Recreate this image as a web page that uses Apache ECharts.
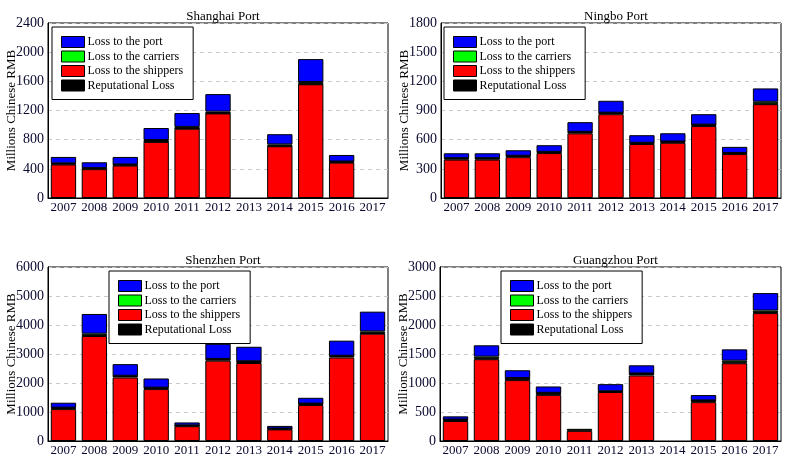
<!DOCTYPE html>
<html>
<head>
<meta charset="utf-8">
<script src="https://cdn.jsdelivr.net/npm/echarts@6/dist/echarts.min.js"></script>
<style>html,body{margin:0;padding:0;background:#fff}#c{width:786px;height:463px}</style>
</head>
<body>
<div id="c"></div>
<script>
const years = ['2007','2008','2009','2010','2011','2012','2013','2014','2015','2016','2017'];
const seriesNames = ['Loss to the shippers','Reputational Loss','Loss to the carriers','Loss to the port'];
const legendOrder = ['Loss to the port','Loss to the carriers','Loss to the shippers','Reputational Loss'];
const portTitles = ['Shanghai Port','Ningbo Port','Shenzhen Port','Guangzhou Port'];
const yMax = [2400, 1800, 6000, 3000];
const yInterval = [400, 300, 1000, 500];

// Shanghai
const shanghaiShippers   = [460, 395, 445, 770, 950, 1160, 0, 710, 1560, 485, 0];
const shanghaiReputation = [10, 10, 10, 5, 5, 5, 0, 5, 5, 10, 0];
const shanghaiCarriers   = [5, 5, 5, 20, 20, 20, 0, 20, 25, 5, 0];
const shanghaiPort       = [88, 80, 103, 165, 190, 240, 0, 140, 315, 90, 0];
// Ningbo
const ningboShippers   = [395, 395, 420, 462, 665, 862, 555, 568, 740, 452, 965];
const ningboReputation = [12, 12, 12, 10, 12, 12, 10, 10, 12, 8, 5];
const ningboCarriers   = [3, 3, 3, 3, 3, 3, 3, 3, 3, 3, 20];
const ningboPort       = [50, 50, 56, 68, 100, 123, 78, 85, 107, 63, 137];
// Shenzhen
const shenzhenShippers   = [1100, 3620, 2190, 1790, 510, 2770, 2690, 400, 1240, 2880, 3700];
const shenzhenReputation = [40, 20, 50, 40, 20, 50, 50, 20, 40, 50, 20];
const shenzhenCarriers   = [10, 60, 10, 10, 10, 10, 10, 10, 10, 10, 60];
const shenzhenPort       = [170, 680, 400, 316, 100, 520, 500, 90, 200, 520, 680];
// Guangzhou
const guangzhouShippers   = [345, 1410, 1050, 795, 175, 845, 1130, 0, 670, 1340, 2205];
const guangzhouReputation = [20, 15, 30, 30, 35, 8, 30, 0, 25, 15, 15];
const guangzhouCarriers   = [5, 30, 5, 5, 0, 5, 5, 0, 5, 30, 30];
const guangzhouPort       = [55, 195, 135, 110, 0, 122, 140, 0, 92, 195, 300];

const portData = [
  [shanghaiShippers, shanghaiReputation, shanghaiCarriers, shanghaiPort],
  [ningboShippers, ningboReputation, ningboCarriers, ningboPort],
  [shenzhenShippers, shenzhenReputation, shenzhenCarriers, shenzhenPort],
  [guangzhouShippers, guangzhouReputation, guangzhouCarriers, guangzhouPort]
];
const colors = ['#ff0000', '#000000', '#00ff00', '#0000ff'];

const grids = [
  {left: 48, top: 23, width: 340, height: 175},
  {left: 441, top: 23, width: 340, height: 175},
  {left: 48, top: 267, width: 340, height: 174},
  {left: 440, top: 267, width: 341, height: 174}
];
const legendPos = [
  {left: 52, top: 27},
  {left: 444, top: 27},
  {left: 109, top: 271},
  {left: 501, top: 271}
];
const FONT = 'Liberation Serif';

const option = {
  backgroundColor: '#fff',
  animation: false,
  textStyle: {fontFamily: FONT},
  title: portTitles.map((t, i) => ({
    text: t,
    left: grids[i].left + grids[i].width / 2,
    textAlign: 'center',
    top: grids[i].top - 18,
    textStyle: {fontFamily: FONT, fontSize: 13, fontWeight: 'normal', color: '#000'}
  })),
  legend: legendPos.map((p, i) => ({
    data: legendOrder,
    orient: 'vertical',
    left: p.left,
    top: p.top,
    icon: 'rect',
    itemWidth: 23,
    itemHeight: 11,
    itemGap: 2.5,
    padding: [9, 10, 8, 9],
    borderColor: '#000',
    borderWidth: 1,
    backgroundColor: '#fff',
    selectedMode: false,
    itemStyle: {borderColor: '#000', borderWidth: 1},
    textStyle: {fontFamily: FONT, fontSize: 12, lineHeight: 11, color: '#000', padding: [0, 0, 0, -2]}
  })),
  grid: grids.map(g => Object.assign({show: true, borderColor: '#000', borderWidth: 1, backgroundColor: 'transparent'}, g)),
  xAxis: grids.map((g, i) => ({
    type: 'category',
    gridIndex: i,
    data: years,
    axisLine: {lineStyle: {color: '#000', width: 1}},
    axisTick: {inside: true, alignWithLabel: true, length: 3, lineStyle: {color: '#000'}},
    axisLabel: {fontFamily: FONT, fontSize: 13, color: '#0a0a30', margin: 3, interval: 0},
    splitLine: {show: false}
  })),
  yAxis: grids.map((g, i) => ({
    type: 'value',
    gridIndex: i,
    min: 0,
    max: yMax[i],
    interval: yInterval[i],
    name: 'Millions Chinese RMB',
    nameLocation: 'middle',
    nameRotate: 90,
    nameGap: 30,
    nameMoveOverlap: false,
    nameTextStyle: {fontFamily: FONT, fontSize: 13, color: '#000'},
    axisLine: {show: true, lineStyle: {color: '#000', width: 1}},
    axisTick: {show: false},
    axisLabel: {fontFamily: FONT, fontSize: 14, color: '#0a0a30', margin: 4, formatter: v => String(v)},
    splitLine: {show: true, lineStyle: {color: '#c8c8c8', type: [4, 4], width: 1}}
  })),
  series: []
};

portData.forEach((arrs, gi) => {
  arrs.forEach((vals, si) => {
    option.series.push({
      type: 'bar',
      name: seriesNames[si],
      xAxisIndex: gi,
      yAxisIndex: gi,
      stack: 'total' + gi,
      data: vals.map(v => (v === 0 ? '-' : v)),
      barCategoryGap: '18%',
      itemStyle: {color: colors[si], borderColor: '#000', borderWidth: 1},
      emphasis: {disabled: true}
    });
  });
});

const chart = echarts.init(document.getElementById('c'), null, {renderer: 'canvas'});
chart.setOption(option);
</script>
</body>
</html>
